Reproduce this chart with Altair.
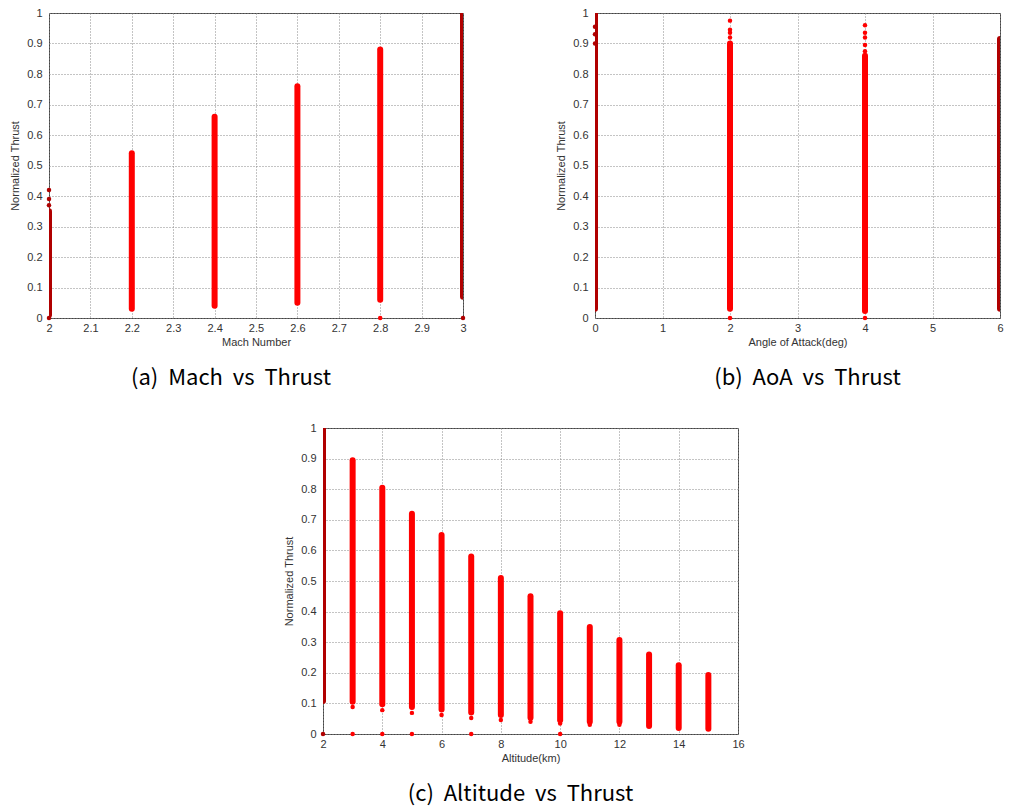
import altair as alt
import pandas as pd

# ---------------- data ----------------
thrust_ticks = [0, 0.1, 0.2, 0.3, 0.4, 0.5, 0.6, 0.7, 0.8, 0.9, 1.0]

# (a) Mach vs Thrust : dense stripes (low / high) and isolated points
mach_x = [2.0, 2.2, 2.4, 2.6, 2.8, 3.0]
mach_lo = [0.01, 0.03, 0.04, 0.05, 0.06, 0.07]
mach_hi = [0.35, 0.54, 0.66, 0.76, 0.88, 1.0]
mach_pt_x = [2.0, 2.0, 2.0, 2.0, 2.8, 3.0]
mach_pt_y = [0.37, 0.39, 0.42, 0.0, 0.0, 0.0]
mach_ticks = [2.0, 2.1, 2.2, 2.3, 2.4, 2.5, 2.6, 2.7, 2.8, 2.9, 3.0]

# (b) AoA vs Thrust
aoa_x = [0, 2, 4, 6]
aoa_lo = [0.03, 0.03, 0.023, 0.03]
aoa_hi = [1.0, 0.9, 0.86, 0.915]
aoa_pt_x = [0, 0, 0, 2, 2, 2, 2, 4, 4, 4, 4, 4, 2, 4]
aoa_pt_y = [0.9, 0.93, 0.955, 0.92, 0.935, 0.945, 0.975, 0.875, 0.895, 0.92, 0.935, 0.96, 0.0, 0.0]
aoa_ticks = [0, 1, 2, 3, 4, 5, 6]

# (c) Altitude vs Thrust
alt_x = [2, 3, 4, 5, 6, 7, 8, 9, 10, 11, 12, 13, 14, 15]
alt_lo = [0.108, 0.105, 0.097, 0.088, 0.08, 0.07, 0.062, 0.053, 0.045, 0.04, 0.04, 0.026, 0.02, 0.017]
alt_hi = [1.0, 0.895, 0.805, 0.72, 0.65, 0.58, 0.51, 0.45, 0.395, 0.35, 0.307, 0.26, 0.225, 0.193]
alt_pt_x = [2, 3, 4, 5, 7, 10, 3, 4, 5, 6, 7, 8, 9, 10, 11, 12]
alt_pt_y = [0.0, 0.0, 0.0, 0.0, 0.0, 0.0, 0.088, 0.078, 0.069, 0.062, 0.052, 0.046, 0.04, 0.034, 0.03, 0.03]
alt_ticks = [2, 4, 6, 8, 10, 12, 14, 16]

NB = "\u00a0"


def panel(x, lo, hi, px, py, xdom, xticks, xtitle, caption, w, h, dx, off):
    stripes = pd.DataFrame({"x": x, "lo": lo, "hi": hi})
    pts = pd.DataFrame({"x": px, "lo": py})
    xs = alt.Scale(domain=xdom, nice=False, zero=False)
    ys = alt.Scale(domain=[0, 1], nice=False)
    xax = alt.Axis(values=xticks, format="~g", title=xtitle)
    yax = alt.Axis(values=thrust_ticks, format="~g", title="Normalized Thrust")
    edge = f"(datum.x <= {xdom[0]} || datum.x >= {xdom[1]}) ? '#b00000' : '#ff0000'"
    rule = (
        alt.Chart(stripes)
        .mark_rule(strokeWidth=6, strokeCap="round", clip=True)
        .transform_calculate(c=edge)
        .encode(
            x=alt.X("x:Q", scale=xs, axis=xax),
            y=alt.Y("lo:Q", scale=ys, axis=yax),
            y2="hi:Q",
            color=alt.Color("c:N", scale=None),
        )
    )
    dots = (
        alt.Chart(pts)
        .mark_circle(size=20, opacity=1)
        .transform_calculate(c=edge)
        .encode(
            x=alt.X("x:Q", scale=xs, axis=xax),
            y=alt.Y("lo:Q", scale=ys, axis=yax),
            color=alt.Color("c:N", scale=None),
        )
    )
    return alt.layer(rule, dots).properties(
        width=w,
        height=h,
        title=alt.TitleParams(caption.replace(" ", NB), orient="bottom", frame="group",
                              anchor="middle", dx=dx, offset=off),
    )


pa = panel(mach_x, mach_lo, mach_hi, mach_pt_x, mach_pt_y, [2, 3], mach_ticks,
           "Mach Number", "(a)  Mach  vs  Thrust", 414, 305, -25, 21)
pb = panel(aoa_x, aoa_lo, aoa_hi, aoa_pt_x, aoa_pt_y, [0, 6], aoa_ticks,
           "Angle of Attack(deg)", "(b)  AoA  vs  Thrust", 405, 305, 10, 21)
pc = panel(alt_x, alt_lo, alt_hi, alt_pt_x, alt_pt_y, [2, 16], alt_ticks,
           "Altitude(km)", "(c)  Altitude  vs  Thrust", 415, 306, -10, 21)

spacer = (
    alt.Chart(pd.DataFrame({"v": [0]}))
    .mark_point(opacity=0)
    .encode(x=alt.X("v:Q", axis=None), y=alt.Y("v:Q", axis=None))
    .properties(width=233, height=10, view={"stroke": "transparent"})
)

top = alt.hconcat(pa, pb, spacing=88)
bottom = alt.hconcat(spacer, pc, spacing=0)
chart = (
    alt.vconcat(top, bottom, spacing=31)
    .properties(padding={"left": 1, "top": -2, "right": 1, "bottom": 0}, background="white")
    .configure_view(stroke="#444", strokeWidth=1)
    .configure_axis(
        grid=True, gridDash=[1, 2], gridColor="#888", gridOpacity=1,
        domain=False, ticks=False, tickSize=0, labelFlush=False,
        labelFont="Liberation Sans", labelFontSize=11, labelColor="#333",
        titleFont="Liberation Sans", titleFontSize=11, titleFontWeight="normal", titleColor="#333",
    )
    .configure_axisX(labelPadding=4, titlePadding=3)
    .configure_axisY(labelPadding=7, titlePadding=6)
    .configure_title(font="Noto Sans CJK KR", fontSize=22, fontWeight="normal", color="#000")
)

chart.save("out.html", embed_options={"renderer": "svg", "actions": False})
